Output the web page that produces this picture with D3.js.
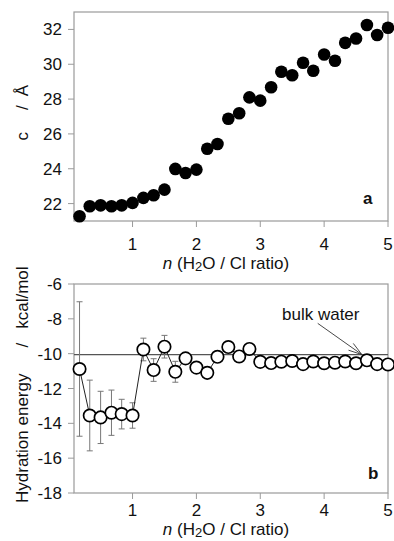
<!DOCTYPE html>
<html>
<head>
<meta charset="utf-8">
<script src="https://cdn.jsdelivr.net/npm/d3@7"></script>
<style>
  html, body { margin: 0; padding: 0; background: #fff; }
  svg { display: block; }
</style>
</head>
<body>
<div id="chart"></div>
<script>
// n (H2O / Cl ratio) for each simulated composition
const waterRatio = [0.17, 0.33, 0.5, 0.67, 0.83, 1.0, 1.17, 1.33, 1.5, 1.67,
    1.83, 2.0, 2.17, 2.33, 2.5, 2.67, 2.83, 3.0, 3.17, 3.33,
    3.5, 3.67, 3.83, 4.0, 4.17, 4.33, 4.5, 4.67, 4.83, 5.0];

// panel a: c lattice parameter (Å)
const cParam = [21.27, 21.85, 21.9, 21.85, 21.9, 22.04, 22.33, 22.48, 22.8, 23.99,
    23.76, 23.95, 25.15, 25.42, 26.87, 27.19, 28.1, 27.91, 28.68, 29.57,
    29.37, 30.09, 29.63, 30.56, 30.2, 31.23, 31.48, 32.25, 31.68, 32.1];

// panel b: hydration energy (kcal/mol) and its error
const hydEnergy = [-10.88, -13.55, -13.66, -13.39, -13.47, -13.55, -9.76, -10.94, -9.6, -11.04,
    -10.27, -10.8, -11.1, -10.18, -9.62, -10.16, -9.73, -10.47, -10.54, -10.46,
    -10.42, -10.6, -10.45, -10.55, -10.52, -10.45, -10.55, -10.38, -10.6, -10.62];
const hydError = [3.86, 2.03, 1.5, 1.3, 0.85, 0.73, 0.65, 0.65, 0.65, 0.6,
    0, 0, 0, 0, 0, 0, 0, 0, 0, 0,
    0, 0, 0, 0, 0, 0, 0, 0, 0, 0];

const bulkWater = -10.05;

const xTicks = [1, 2, 3, 4, 5];
const cTicks = [22, 24, 26, 28, 30, 32];
const energyTicks = [-6, -8, -10, -12, -14, -16, -18];

const W = 394, H = 541;
const font = "'Liberation Sans', Arial, sans-serif";
const frameColor = "#9a9a9a";

const svg = d3.select("#chart").append("svg")
    .attr("width", W)
    .attr("height", H)
    .style("font-family", font);

const x = d3.scaleLinear().domain([1 / 12, 5]).range([74, 388]);
const yTop = d3.scaleLinear().domain([21, 33]).range([221, 12]);
const yBot = d3.scaleLinear().domain([-18, -6]).range([493, 284]);

function drawFrame(y, ticks, labelY, titleY) {
    const [y0, y1] = y.range();
    const [x0, x1] = x.range();

    const g = svg.append("g");

    g.append("rect")
        .attr("x", x0)
        .attr("y", y1)
        .attr("width", x1 - x0)
        .attr("height", y0 - y1)
        .attr("fill", "none")
        .attr("stroke", frameColor)
        .attr("stroke-width", 1.2);

    // y ticks + labels
    ticks.forEach(t => {
        g.append("line")
            .attr("x1", x0 - 6).attr("x2", x0)
            .attr("y1", y(t)).attr("y2", y(t))
            .attr("stroke", frameColor);
        g.append("text")
            .attr("x", x0 - 12)
            .attr("y", y(t) + 6)
            .attr("text-anchor", "end")
            .attr("font-size", 17)
            .attr("fill", "#111")
            .text(t);
    });

    // x ticks + labels
    xTicks.forEach(t => {
        g.append("line")
            .attr("x1", x(t)).attr("x2", x(t))
            .attr("y1", y0).attr("y2", y0 + 6)
            .attr("stroke", frameColor);
        g.append("text")
            .attr("x", x(t))
            .attr("y", labelY)
            .attr("text-anchor", "middle")
            .attr("font-size", 17)
            .attr("fill", "#111")
            .text(t);
    });

    // x title: n (H2O / Cl ratio)
    const title = g.append("text")
        .attr("x", 226)
        .attr("y", titleY)
        .attr("text-anchor", "middle")
        .attr("font-size", 17)
        .attr("fill", "#111");
    title.append("tspan").attr("font-style", "italic").text("n");
    title.append("tspan").text(" (H");
    title.append("tspan").attr("font-size", 13).attr("dy", 2).text("2");
    title.append("tspan").attr("dy", -2).text("O / Cl ratio)");

    return g;
}

// ---------- panel a ----------
drawFrame(yTop, cTicks, 250, 269);

const cLabel = svg.append("text")
    .attr("transform", "translate(28, 140.5) rotate(-90)")
    .attr("font-size", 17)
    .attr("fill", "#111");
cLabel.append("tspan").text("c");
cLabel.append("tspan").attr("dx", 22).text("/");
cLabel.append("tspan").attr("dx", 9).text("Å");

svg.append("g")
    .selectAll("circle")
    .data(waterRatio)
    .enter()
    .append("circle")
    .attr("cx", d => x(d))
    .attr("cy", (d, i) => yTop(cParam[i]))
    .attr("r", 6.3)
    .attr("fill", "#000");

svg.append("text")
    .attr("x", 363)
    .attr("y", 204)
    .attr("font-size", 17)
    .attr("font-weight", "bold")
    .attr("fill", "#111")
    .text("a");

// ---------- panel b ----------
drawFrame(yBot, energyTicks, 516, 535);

const eLabel = svg.append("text")
    .attr("transform", "translate(28, 503) rotate(-90)")
    .attr("font-size", 17)
    .attr("fill", "#111");
eLabel.append("tspan").text("Hydration energy");
eLabel.append("tspan").attr("dx", 26).text("/");
eLabel.append("tspan").attr("dx", 14).text("kcal/mol");

// bulk water reference
svg.append("line")
    .attr("x1", x.range()[0]).attr("x2", x.range()[1])
    .attr("y1", yBot(bulkWater)).attr("y2", yBot(bulkWater))
    .attr("stroke", "#555")
    .attr("stroke-width", 1.2);

const pts = waterRatio.map((n, i) => ({ n, e: hydEnergy[i], err: hydError[i] }));

// error bars
const errG = svg.append("g")
    .attr("stroke", "#777")
    .attr("stroke-width", 1);
pts.filter(d => d.err > 0).forEach(d => {
    const cx = x(d.n);
    const top = yBot(d.e + d.err);
    const bot = yBot(d.e - d.err);
    errG.append("line").attr("x1", cx).attr("x2", cx).attr("y1", top).attr("y2", bot);
    errG.append("line").attr("x1", cx - 3).attr("x2", cx + 3).attr("y1", top).attr("y2", top);
    errG.append("line").attr("x1", cx - 3).attr("x2", cx + 3).attr("y1", bot).attr("y2", bot);
});

svg.append("path")
    .datum(pts)
    .attr("fill", "none")
    .attr("stroke", "#222")
    .attr("stroke-width", 1)
    .attr("d", d3.line().x(d => x(d.n)).y(d => yBot(d.e)));

svg.append("g")
    .selectAll("circle")
    .data(pts)
    .enter()
    .append("circle")
    .attr("cx", d => x(d.n))
    .attr("cy", d => yBot(d.e))
    .attr("r", 6.2)
    .attr("fill", "#fff")
    .attr("stroke", "#000")
    .attr("stroke-width", 1.7);

// annotation arrow
const arrowFrom = [3.9, -8.26];
const arrowTo = [4.59, bulkWater];
const ax0 = x(arrowFrom[0]), ay0 = yBot(arrowFrom[1]);
const ax1 = x(arrowTo[0]), ay1 = yBot(arrowTo[1]);
const ang = Math.atan2(ay1 - ay0, ax1 - ax0);
const headLen = 14, spread = 0.3;

const arrow = svg.append("g")
    .attr("stroke", "#333")
    .attr("stroke-width", 0.9)
    .attr("fill", "none");
arrow.append("line").attr("x1", ax0).attr("y1", ay0).attr("x2", ax1).attr("y2", ay1);
arrow.append("path")
    .attr("d", `M${ax1 - headLen * Math.cos(ang - spread)},${ay1 - headLen * Math.sin(ang - spread)}`
        + `L${ax1},${ay1}`
        + `L${ax1 - headLen * Math.cos(ang + spread)},${ay1 - headLen * Math.sin(ang + spread)}`);

svg.append("text")
    .attr("x", 282)
    .attr("y", 320)
    .attr("font-size", 17)
    .attr("fill", "#111")
    .text("bulk water");

svg.append("text")
    .attr("x", 368)
    .attr("y", 479)
    .attr("font-size", 17)
    .attr("font-weight", "bold")
    .attr("fill", "#111")
    .text("b");
</script>
</body>
</html>
